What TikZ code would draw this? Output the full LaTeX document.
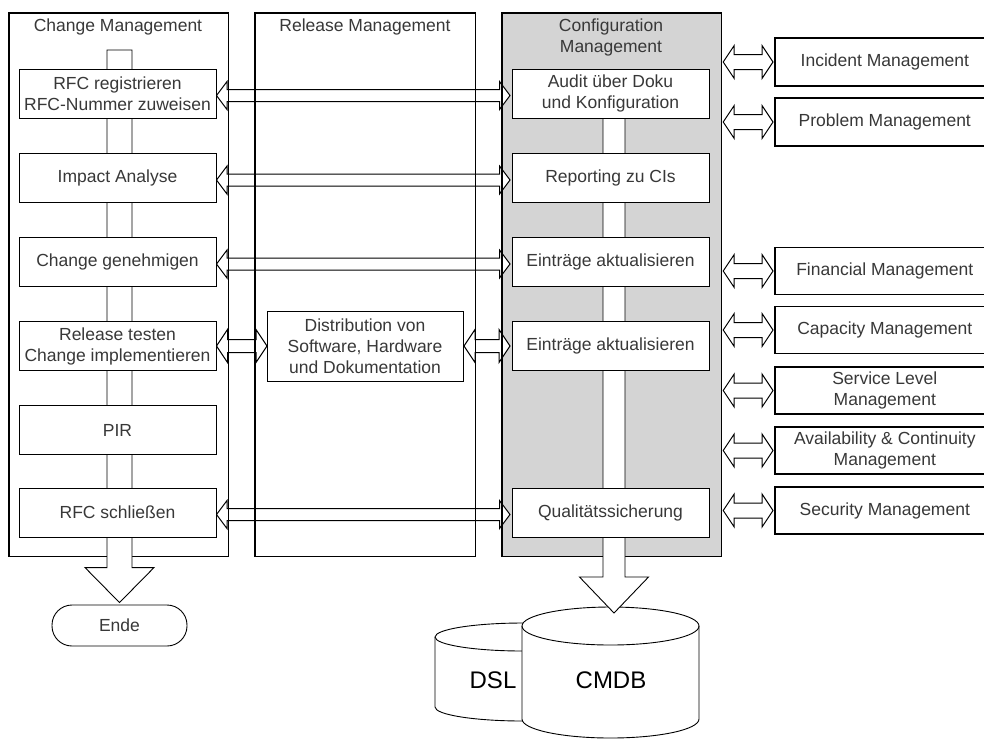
\documentclass[tikz,border=0pt]{standalone}
\usepackage{fontspec}
\setmainfont{Liberation Sans}
\usetikzlibrary{calc}

\definecolor{ink}{HTML}{383838}
\definecolor{cfggray}{HTML}{D4D4D4}

% horizontal double arrow between two tip points
% #1 left tip, #2 right tip, #3 shaft half height, #4 head half height, #5 head length
\newcommand{\dblarrow}[5]{%
  \draw[arrowbody] let \p1=(#1), \p2=(#2) in
    (\x1,\y1) -- (\x1+#5,\y1+#4) -- (\x1+#5,\y1+#3) -- (\x2-#5,\y1+#3)
    -- (\x2-#5,\y1+#4) -- (\x2,\y1) -- (\x2-#5,\y1-#4) -- (\x2-#5,\y1-#3)
    -- (\x1+#5,\y1-#3) -- (\x1+#5,\y1-#4) -- cycle;}

\begin{document}
\begin{tikzpicture}[x=1pt,y=-1pt,
  txt/.style={font=\fontsize{17.5}{21}\selectfont, text=ink, align=center},
  lane/.style={minimum width=219pt, minimum height=543pt, inner sep=0pt},
  laneborder/.style={draw=black, line width=1.4pt},
  stepbox/.style={txt, draw=black, line width=0.9pt, fill=white,
    minimum width=197pt, minimum height=49pt, inner sep=0pt},
  procbox/.style={txt, draw=black, line width=1.6pt, fill=white, anchor=west,
    minimum width=220pt, minimum height=47pt, inner sep=0pt},
  arrowbody/.style={draw=black, fill=white, line width=1pt, line join=miter},
  pipe/.style={draw=black, fill=white, line width=0.9pt, line join=miter},
  cyl/.style={draw=black, fill=white, line width=0.9pt}]

\useasboundingbox (0,0) rectangle (984,740);
\clip (0,0) rectangle (984,740);

% swim lanes (fills only, borders are drawn after the arrows)
\node[lane, fill=white] (cm) at (118.5,284.5) {};
\node[lane, fill=white, minimum width=220pt] (rm) at (365,284.5) {};
\node[lane, fill=cfggray] (cfg) at (611.5,284.5) {};

% lane titles
\node[txt] (cmtitle) at (118,27) {Change Management};
\node[txt] (rmtitle) at (365,27) {Release Management};
\node[txt] (cfgtitle) at (611,37) {Configuration\\Management};

% step box positions
\path (117.5,93.5) coordinate (p-rfc) (117.5,178) coordinate (p-imp)
      (117.5,262) coordinate (p-gen) (117.5,346) coordinate (p-rel)
      (117.5,430) coordinate (p-pir) (117.5,512.5) coordinate (p-close)
      (610.5,93.5) coordinate (p-audit) (610.5,178) coordinate (p-rep)
      (610.5,262) coordinate (p-ein1) (610.5,346) coordinate (p-ein2)
      (610.5,512.5) coordinate (p-qs) (365,346) coordinate (p-dist);

% arrows between the lanes
\path (p-rfc) ++(99,2) coordinate (a1l) (p-audit) ++(-100.5,2) coordinate (a1r)
      (p-imp) ++(99,2) coordinate (a2l) (p-rep) ++(-100.5,2) coordinate (a2r)
      (p-gen) ++(99,2) coordinate (a3l) (p-ein1) ++(-100.5,2) coordinate (a3r)
      (p-rel) ++(99,0) coordinate (a4l) (p-dist) ++(-98,0) coordinate (a4r)
      (p-dist) ++(99,0) coordinate (a5l) (p-ein2) ++(-100.5,0) coordinate (a5r)
      (p-close) ++(99,2) coordinate (a6l) (p-qs) ++(-100.5,2) coordinate (a6r);
\dblarrow{a1l}{a1r}{6pt}{14pt}{10.5pt}
\dblarrow{a2l}{a2r}{6pt}{14pt}{10.5pt}
\dblarrow{a3l}{a3r}{6pt}{14pt}{10.5pt}
\dblarrow{a4l}{a4r}{6.5pt}{16.5pt}{11pt}
\dblarrow{a5l}{a5r}{6.5pt}{16.5pt}{11pt}
\dblarrow{a6l}{a6r}{6pt}{14pt}{10.5pt}

% lane borders
\draw[laneborder] (cm.north west) rectangle (cm.south east);
\draw[laneborder] (rm.north west) rectangle (rm.south east);
\draw[laneborder] (cfg.north west) rectangle (cfg.south east);

% end node
\node[txt, draw=black, line width=0.9pt, fill=white, rounded corners=20pt,
      minimum width=135pt, minimum height=41pt, inner sep=0pt] (ende) at (119.5,625.5) {Ende};

% databases
\draw[cyl] (435,637) -- (435,707) arc[start angle=180, end angle=360, x radius=88pt, y radius=14pt]
  -- (611,637) arc[start angle=0, end angle=180, x radius=88pt, y radius=14pt] -- cycle;
\draw[cyl, fill=none] (435,637) arc[start angle=180, end angle=360, x radius=88pt, y radius=14pt];
\node[txt, font=\fontsize{24}{28}\selectfont, text=black] (dsl) at (493,680) {DSL};

\draw[cyl] (522,626) -- (522,719) arc[start angle=180, end angle=360, x radius=88.5pt, y radius=19pt]
  -- (699,626) arc[start angle=0, end angle=180, x radius=88.5pt, y radius=19pt] -- cycle;
\draw[cyl, fill=none] (522,626) arc[start angle=180, end angle=360, x radius=88.5pt, y radius=19pt];
\node[txt, font=\fontsize{24}{28}\selectfont, text=black] (cmdb) at (611,680) {CMDB};

% flow pipes with their big end arrows
\coordinate (cmtop) at (119.5,50);
\draw[pipe] let \p1=(cmtop), \p2=(ende.north) in
  (\x1-12.5pt,\y1) -- (\x1+12.5pt,\y1) -- (\x1+12.5pt,\y2+37pt) -- (\x1+34.5pt,\y2+37pt)
  -- (\x1,\y2+2pt) -- (\x1-34.5pt,\y2+37pt) -- (\x1-12.5pt,\y2+37pt) -- cycle;

\coordinate (cfgtop) at (614,100);
\coordinate (cmdbtop) at (614,613);
\draw[pipe] let \p1=(cfgtop), \p2=(cmdbtop) in
  (\x1-11pt,\y1) -- (\x1+11pt,\y1) -- (\x1+11pt,\y2+36pt) -- (\x1+34.5pt,\y2+36pt)
  -- (\x1,\y2) -- (\x1-34.5pt,\y2+36pt) -- (\x1-11pt,\y2+36pt) -- cycle;

% change management steps
\node[stepbox] (rfc) at (p-rfc) {RFC registrieren\\RFC-Nummer zuweisen};
\node[stepbox] (imp) at (p-imp) {Impact Analyse};
\node[stepbox] (gen) at (p-gen) {Change genehmigen};
\node[stepbox] (rel) at (p-rel) {Release testen\\Change implementieren};
\node[stepbox] (pir) at (p-pir) {PIR};
\node[stepbox] (close) at (p-close) {RFC schließen};

% release management step
\node[stepbox, minimum width=196pt, minimum height=70pt] (dist) at (p-dist)
  {Distribution von\\Software, Hardware\\und Dokumentation};

% configuration management steps
\node[stepbox] (audit) at (p-audit) {Audit über Doku\\und Konfiguration};
\node[stepbox] (rep) at (p-rep) {Reporting zu CIs};
\node[stepbox] (ein1) at (p-ein1) {Einträge aktualisieren};
\node[stepbox] (ein2) at (p-ein2) {Einträge aktualisieren};
\node[stepbox] (qs) at (p-qs) {Qualitätssicherung};

% neighbouring processes
\node[procbox, minimum height=48pt] (inc) at (774,62) {Incident Management};
\node[procbox, minimum height=48pt] (prob) at (774,122) {Problem Management};
\node[procbox] (fin) at (774,271) {Financial Management};
\node[procbox] (cap) at (774,330) {Capacity Management};
\node[procbox] (slm) at (774,390.5) {Service Level\\Management};
\node[procbox] (avail) at (774,450.5) {Availability \& Continuity\\Management};
\node[procbox] (sec) at (774,510.5) {Security Management};

\foreach \b in {inc,prob,fin,cap,slm,avail,sec}{
  \path (cfg.east |- \b.west) ++(2,0) coordinate (\b-l) (\b.west) ++(-1,0) coordinate (\b-r);
  \dblarrow{\b-l}{\b-r}{7.5pt}{16.5pt}{11pt}
}

\end{tikzpicture}
\end{document}
